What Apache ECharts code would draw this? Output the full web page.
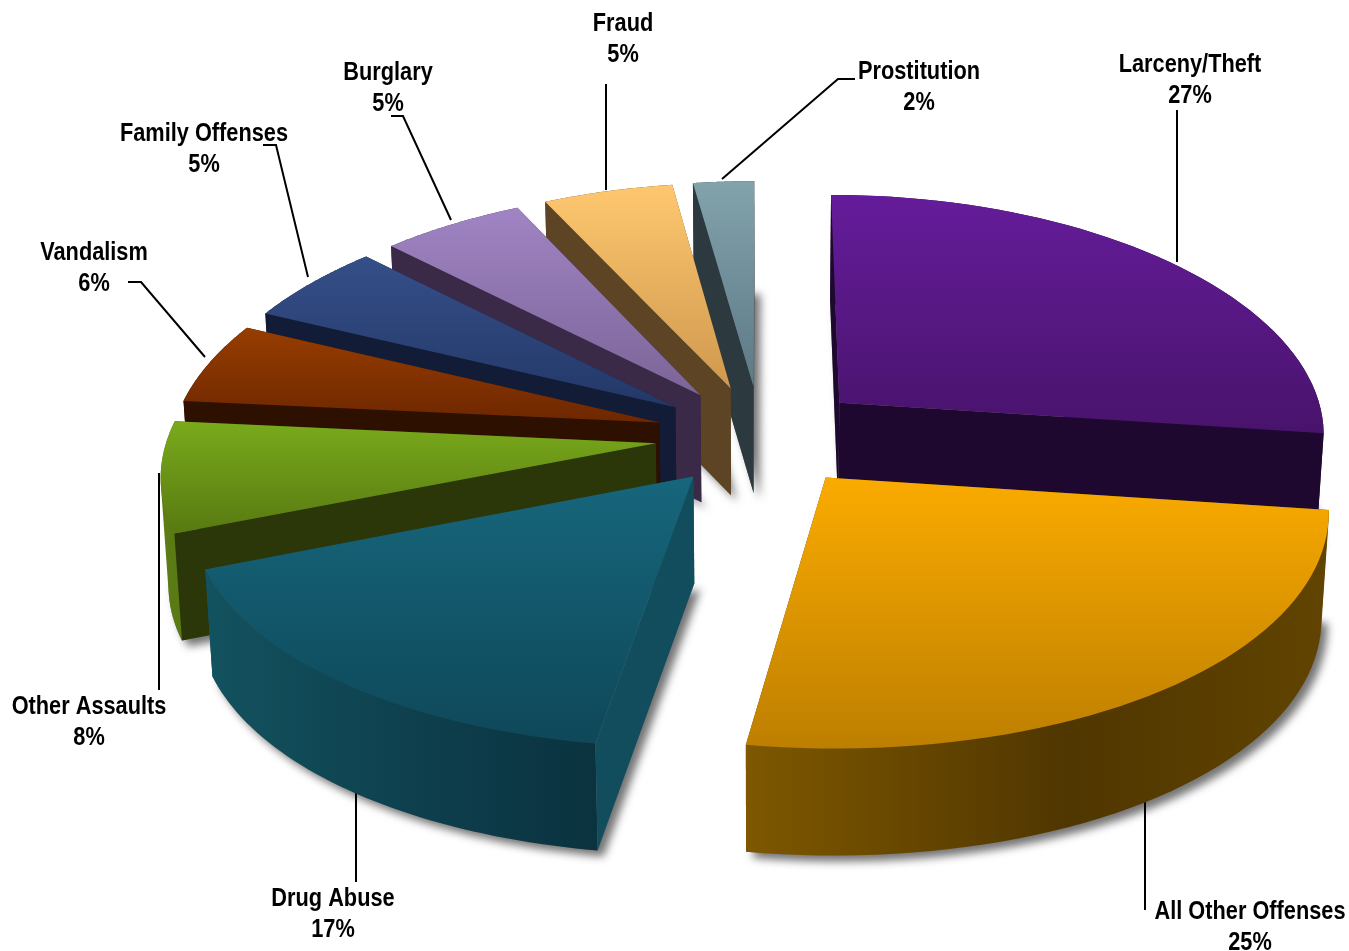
<!DOCTYPE html>
<html><head><meta charset="utf-8">
<style>html,body{margin:0;padding:0;background:#fff}#c{width:1349px;height:951px}</style>
<script src="https://cdn.jsdelivr.net/npm/echarts@6/dist/echarts.min.js"></script>
</head><body><div id="c"></div>
<script>
// ---- data ----
const categories = ['Larceny/Theft','All Other Offenses','Drug Abuse','Other Assaults','Vandalism','Family Offenses','Burglary','Fraud','Prostitution'];
const shares = [27.1,25.4,16.5,7.5,5.5,5.4,5.4,4.9,2.3];

// ---- styles ----
const topTop    = ['#651c9a','#fbab00','#17667c','#79aa1b','#973d00','#354f88','#a084c4','#fec76f','#82a2ac'];
const topBottom = ['#48136c','#bd7f00','#0e4859','#587a12','#6e2700','#233868','#7c6497','#cf984e','#5d7a86'];
const faceColor = ['#1f0830','#5c4000','#124d5d','#2b3708','#2e1000','#121c36','#3a2a47','#5c4424','#2c3a40'];
const wallLeft  = ['#1f0830','#7e5800','#13525f','#5e8016','#2e1000','#121c36','#3a2a47','#5c4424','#2c3a40'];
const wallMid   = ['#1f0830','#503600','#0e3f4d','#5a7a14','#2e1000','#121c36','#3a2a47','#5c4424','#2c3a40'];
const wallRight = ['#1f0830','#614400','#0b323f','#5a7a14','#2e1000','#121c36','#3a2a47','#5c4424','#2c3a40'];

// ---- label layout (label centre, leader polyline) ----
const labelCentre = [[1190,81],[1250,928],[333,915],[89,723],[94,269],[204,150],[388,89],[623,40],[919,88]];
const leaderLines = [
  [[1177,110],[1177,262]],
  [[1145,910],[1145,795]],
  [[356,882],[356,787]],
  [[159,690],[159,473]],
  [[128,282],[141,282],[205,357]],
  [[263,145],[276,145],[308,277]],
  [[391,116],[403,116],[451,220]],
  [[606,84],[606,190]],
  [[855,79],[838,79],[722,179]]
];

// ---- projection of the tilted, exploded pie ----
const CX=761, CY=436, RX=488, RY=235, PX=0.12, PY=0.10, EXPLODE=0.217, DEPTH=107, BOTTOM_X=0.987;
const total = shares.reduce((a,b)=>a+b,0);
let acc=0;
const slices = shares.map(v=>{const a0=acc/total*2*Math.PI; acc+=v; return {a0,a1:acc/total*2*Math.PI};});
function project(X,Y){return [CX+RX*X/(1-PX*Y), CY+RY*Y/(1-PY*Y)];}
function low(p){return [CX+(p[0]-CX)*BOTTOM_X, p[1]+DEPTH];}
function geometry(i){
  const s=slices[i], b=(s.a0+s.a1)/2, ox=EXPLODE*Math.sin(b), oy=-EXPLODE*Math.cos(b);
  const arc=[]; const n=48;
  for(let k=0;k<=n;k++){const a=s.a0+(s.a1-s.a0)*k/n; arc.push(project(ox+Math.sin(a),oy-Math.cos(a)));}
  return {tip:project(ox,oy),arc};
}
const cross=(o,a,b)=>(a[0]-o[0])*(b[1]-o[1])-(a[1]-o[1])*(b[0]-o[0]);
function hull(pts){
  const p=pts.slice().sort((a,b)=>a[0]-b[0]||a[1]-b[1]);
  const half=list=>{const h=[];for(const q of list){while(h.length>1&&cross(h[h.length-2],h[h.length-1],q)<=0)h.pop();h.push(q);}h.pop();return h;};
  return half(p).concat(half(p.slice().reverse()));
}
function faceVisible(tip,outer,inner){
  const m=[(low(tip)[0]+low(outer)[0])/2,(low(tip)[1]+low(outer)[1])/2];
  return cross(tip,outer,m)*cross(tip,outer,inner)<0;
}
function poly(points,fill,extra){
  return Object.assign({type:'polygon',silent:true,shape:{points},style:{fill}},extra||{});
}
const vGrad=(a,b)=>new echarts.graphic.LinearGradient(0,0,0,1,[{offset:0,color:a},{offset:1,color:b}]);
const hGrad=(a,m,b)=>new echarts.graphic.LinearGradient(0,0,1,0,[{offset:0,color:a},{offset:.55,color:m},{offset:1,color:b}]);

function renderShadow(params,api){
  const i=api.value(0), g=geometry(i);
  const floor=[low(g.tip),...g.arc.map(low)];
  return {type:'group',children:[
    poly(floor,'#777',{style:{fill:'#777',shadowColor:'rgba(0,0,0,0.55)',shadowBlur:9,shadowOffsetX:6,shadowOffsetY:6}})
  ]};
}
function renderSlice(params,api){
  const i=api.value(0), g=geometry(i), arc=g.arc, tip=g.tip;
  const first=arc[0], last=arc[arc.length-1], mid=arc[24];
  const faceA=poly([tip,first,low(first),low(tip)],faceColor[i]);
  const faceB=poly([tip,last,low(last),low(tip)],faceColor[i]);
  const wall=poly(hull([...arc,...arc.map(low)]),hGrad(wallLeft[i],wallMid[i],wallRight[i]));
  const hidden=[],shown=[];
  (faceVisible(tip,first,mid)?shown:hidden).push(faceA);
  (faceVisible(tip,last,mid)?shown:hidden).push(faceB);
  const top=poly([tip,...arc],vGrad(topTop[i],topBottom[i]));
  return {type:'group',children:[...hidden,wall,...shown,top]};
}
function renderLabel(params,api){
  const i=api.value(0), c=labelCentre[i];
  return {type:'group',children:[
    {type:'polyline',silent:true,shape:{points:leaderLines[i]},style:{fill:null,stroke:'#000',lineWidth:2}},
    {type:'text',silent:true,x:c[0],y:c[1],scaleX:0.87,style:{
      text:categories[i]+'\n'+Math.round(shares[i])+'%',
      align:'center',verticalAlign:'middle',fill:'#000',
      font:'bold 25px "Liberation Sans",sans-serif',lineHeight:31}}
  ]};
}
// paint from the back of the pie to the front
const paintOrder = slices.map((s,i)=>i).sort((p,q)=>
  -Math.cos((slices[p].a0+slices[p].a1)/2)+Math.cos((slices[q].a0+slices[q].a1)/2));

const chart=echarts.init(document.getElementById('c'),null,{renderer:'canvas'});
chart.setOption({
  animation:false,
  backgroundColor:'#fff',
  series:[
    {type:'custom',coordinateSystem:'none',renderItem:renderShadow,data:paintOrder.map(i=>[i]),z:1,silent:true},
    {type:'custom',coordinateSystem:'none',renderItem:renderLabel,data:paintOrder.map(i=>[i]),z:2,silent:true},
    {type:'custom',coordinateSystem:'none',renderItem:renderSlice,data:paintOrder.map(i=>[i]),z:3,silent:true}
  ]
});
</script></body></html>
